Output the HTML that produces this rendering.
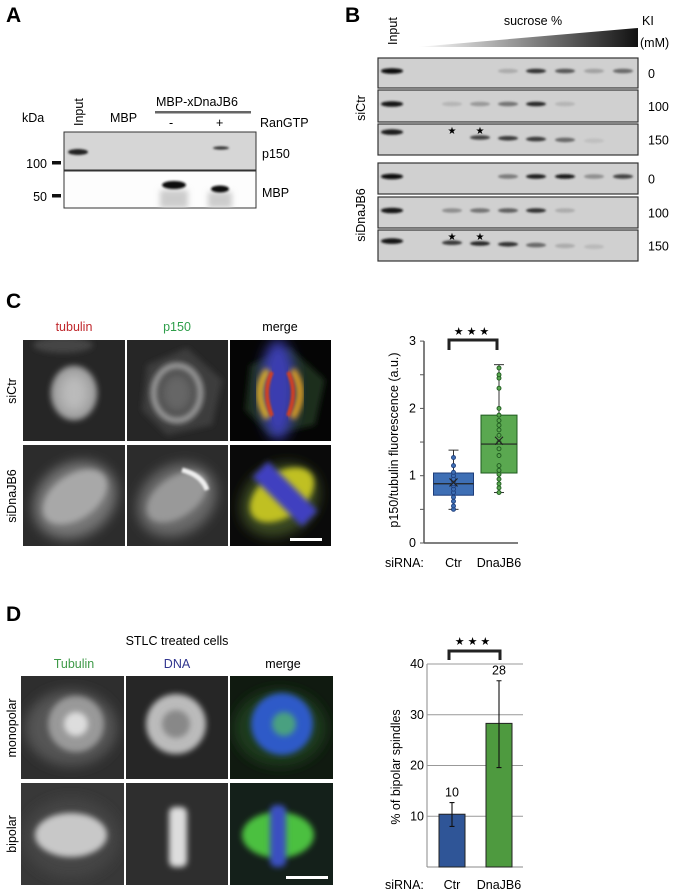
<!DOCTYPE html>
<html><head><meta charset="utf-8">
<style>
html,body{margin:0;padding:0;background:#fff;}
svg{display:block;font-family:"Liberation Sans",sans-serif;}
</style></head>
<body>
<svg id="fig" width="680" height="894" viewBox="0 0 680 894" xmlns="http://www.w3.org/2000/svg">
<defs>
<filter id="b1" x="-50%" y="-50%" width="200%" height="200%"><feGaussianBlur stdDeviation="1"/></filter>
<filter id="b3" x="-50%" y="-50%" width="200%" height="200%"><feGaussianBlur stdDeviation="3"/></filter>
<filter id="b6" x="-50%" y="-50%" width="200%" height="200%"><feGaussianBlur stdDeviation="6"/></filter>
<linearGradient id="tri" x1="0" x2="1" y1="0" y2="0"><stop offset="0" stop-color="#fff"/><stop offset="1" stop-color="#111"/></linearGradient>
<clipPath id="cA"><rect x="64" y="132" width="192" height="76"/></clipPath>
</defs>

<text x="6" y="22" font-size="21" font-weight="bold">A</text>
<text x="345" y="22" font-size="21" font-weight="bold">B</text>
<text x="6" y="308" font-size="21" font-weight="bold">C</text>
<text x="6" y="621" font-size="21" font-weight="bold">D</text>

<g font-size="12.5">
<text x="22" y="122">kDa</text>
<text transform="translate(83,126) rotate(-90)">Input</text>
<text x="110" y="122">MBP</text>
<text x="156" y="106">MBP-xDnaJB6</text>
<rect x="155" y="111" width="96" height="2.5" fill="#666"/>
<text x="169" y="127">-</text>
<text x="216" y="127">+</text>
<text x="260" y="127">RanGTP</text>
<rect x="64" y="132" width="192" height="38" fill="#d6d6d6" stroke="#333" stroke-width="1"/>
<rect x="64" y="171" width="192" height="37" fill="#fdfdfd" stroke="#333" stroke-width="1"/>
<g clip-path="url(#cA)">
<ellipse cx="78" cy="152" rx="10" ry="3" fill="#222" filter="url(#b1)"/>
<ellipse cx="221" cy="148" rx="8" ry="1.6" fill="#333" filter="url(#b1)"/>
<rect x="160" y="190" width="28" height="18" fill="#ccc" filter="url(#b3)"/>
<rect x="208" y="192" width="24" height="16" fill="#ccc" filter="url(#b3)"/>
<ellipse cx="174" cy="185" rx="12" ry="4" fill="#111" filter="url(#b1)"/>
<ellipse cx="220" cy="189" rx="9" ry="3.5" fill="#111" filter="url(#b1)"/>
</g>
<text x="262" y="158">p150</text>
<text x="262" y="197">MBP</text>
<text x="47" y="168" text-anchor="end">100</text>
<rect x="52" y="161" width="9" height="3.5" fill="#111"/>
<text x="47" y="201" text-anchor="end">50</text>
<rect x="52" y="194" width="9" height="3.5" fill="#111"/>
</g>

<g font-size="12.5">
<text transform="translate(397,45) rotate(-90)">Input</text>
<text x="533" y="25" text-anchor="middle">sucrose %</text>
<polygon points="417,47 638,28 638,47" fill="url(#tri)"/>
<text x="642" y="25">KI</text>
<text x="640" y="47">(mM)</text>
<text transform="translate(365,108) rotate(-90)" text-anchor="middle">siCtr</text>
<text transform="translate(365,215) rotate(-90)" text-anchor="middle">siDnaJB6</text>
<g id="blotsB"></g>
</g>

<g font-size="12.5">
<text x="74" y="331" text-anchor="middle" fill="#c0282d">tubulin</text>
<text x="177" y="331" text-anchor="middle" fill="#2e9e4a">p150</text>
<text x="280" y="331" text-anchor="middle">merge</text>
<text transform="translate(16,391) rotate(-90)" text-anchor="middle">siCtr</text>
<text transform="translate(16,496) rotate(-90)" text-anchor="middle">siDnaJB6</text>

<svg x="23" y="340" width="102" height="101"><rect width="102" height="101" fill="#262626"/><ellipse cx="40" cy="5" rx="30" ry="8" fill="#444" filter="url(#b3)"/><ellipse cx="51" cy="53" rx="23" ry="27" fill="#9a9a9a" filter="url(#b3)"/><ellipse cx="51" cy="53" rx="15" ry="20" fill="#bbb" filter="url(#b6)"/></svg>
<svg x="127" y="340" width="101" height="101"><rect width="101" height="101" fill="#262626"/><polygon points="20,25 60,8 95,40 85,85 40,95 15,70" fill="#3e3e3e" filter="url(#b3)"/><ellipse cx="50" cy="53" rx="23" ry="27" fill="none" stroke="#aaa" stroke-width="6" filter="url(#b3)"/><ellipse cx="50" cy="53" rx="18" ry="22" fill="#666" filter="url(#b6)"/></svg>
<svg x="230" y="340" width="101" height="101"><rect width="101" height="101" fill="#050505"/><polygon points="20,25 60,8 95,40 85,85 40,95 15,70" fill="#1a2e1a" filter="url(#b3)"/><ellipse cx="48" cy="50" rx="18" ry="50" fill="#3b3cb0" filter="url(#b6)"/><path d="M38 30 Q22 52 38 78" stroke="#e0b020" stroke-width="7" fill="none" filter="url(#b3)"/><path d="M62 30 Q78 52 62 78" stroke="#e0a020" stroke-width="7" fill="none" filter="url(#b3)"/><path d="M42 32 Q32 52 42 76" stroke="#d04020" stroke-width="4" fill="none" filter="url(#b1)"/><path d="M58 32 Q68 52 58 76" stroke="#d04020" stroke-width="4" fill="none" filter="url(#b1)"/></svg>

<svg x="23" y="445" width="102" height="101"><rect width="102" height="101" fill="#2c2c2c"/><ellipse cx="52" cy="55" rx="44" ry="36" transform="rotate(-35 52 55)" fill="#777" filter="url(#b6)"/><ellipse cx="52" cy="52" rx="36" ry="22" transform="rotate(-35 52 52)" fill="#a8a8a8" filter="url(#b3)"/></svg>
<svg x="127" y="445" width="101" height="101"><rect width="101" height="101" fill="#2c2c2c"/><ellipse cx="50" cy="55" rx="42" ry="34" transform="rotate(-35 50 55)" fill="#6a6a6a" filter="url(#b6)"/><ellipse cx="50" cy="52" rx="34" ry="20" transform="rotate(-35 50 52)" fill="#999" filter="url(#b3)"/><path d="M55 25 Q75 30 80 45" stroke="#eee" stroke-width="5" fill="none" filter="url(#b1)"/></svg>
<svg x="230" y="445" width="101" height="101"><rect width="101" height="101" fill="#0a0a0a"/><ellipse cx="50" cy="55" rx="42" ry="34" transform="rotate(-35 50 55)" fill="#3a4a20" filter="url(#b6)"/><ellipse cx="52" cy="50" rx="36" ry="22" transform="rotate(-35 52 50)" fill="#c0c020" filter="url(#b3)"/><rect x="20" y="38" width="70" height="22" transform="rotate(45 55 49)" fill="#4040c0" filter="url(#b3)"/><rect x="60" y="93" width="32" height="3" fill="#fff"/></svg>
</g>

<g font-size="12.5">
<text x="177" y="645" text-anchor="middle">STLC treated cells</text>
<text x="74" y="668" text-anchor="middle" fill="#3f9a48">Tubulin</text>
<text x="177" y="668" text-anchor="middle" fill="#30358f">DNA</text>
<text x="283" y="668" text-anchor="middle">merge</text>
<text transform="translate(16,728) rotate(-90)" text-anchor="middle">monopolar</text>
<text transform="translate(16,834) rotate(-90)" text-anchor="middle">bipolar</text>

<svg x="21" y="676" width="103" height="103"><rect width="103" height="103" fill="#2e2e2e"/><ellipse cx="50" cy="52" rx="46" ry="38" fill="#555" filter="url(#b6)"/><circle cx="55" cy="48" r="28" fill="#999" filter="url(#b3)"/><circle cx="55" cy="48" r="12" fill="#ddd" filter="url(#b3)"/></svg>
<svg x="126" y="676" width="102" height="103"><rect width="102" height="103" fill="#262626"/><circle cx="50" cy="48" r="30" fill="#bbb" filter="url(#b3)"/><circle cx="50" cy="48" r="14" fill="#888" filter="url(#b3)"/></svg>
<svg x="230" y="676" width="103" height="103"><rect width="103" height="103" fill="#101a10"/><ellipse cx="50" cy="52" rx="46" ry="38" fill="#1f3a1f" filter="url(#b6)"/><circle cx="52" cy="48" r="31" fill="#2f5ac8" filter="url(#b3)"/><circle cx="54" cy="48" r="12" fill="#4aa080" filter="url(#b3)"/></svg>

<svg x="21" y="783" width="103" height="102"><rect width="103" height="102" fill="#383838"/><ellipse cx="50" cy="55" rx="48" ry="40" fill="#444" filter="url(#b6)"/><ellipse cx="50" cy="52" rx="36" ry="22" fill="#c8c8c8" filter="url(#b3)"/></svg>
<svg x="126" y="783" width="102" height="102"><rect width="102" height="102" fill="#2e2e2e"/><rect x="43" y="24" width="18" height="60" rx="6" fill="#ddd" filter="url(#b3)"/></svg>
<svg x="230" y="783" width="103" height="102"><rect width="103" height="102" fill="#14201a"/><ellipse cx="48" cy="52" rx="36" ry="23" fill="#4cc040" filter="url(#b3)"/><rect x="40" y="22" width="16" height="62" rx="6" fill="#3a50c0" filter="url(#b3)"/><rect x="56" y="93" width="42" height="3" fill="#fff"/></svg>
</g>

<g id="chartC" font-size="12.5"></g>
<g id="chartD" font-size="12.5"></g>
</svg>

<script>
var laneX = [392, 425, 452, 480, 508, 536, 565, 594, 623];
var rowTop = [58, 90, 124, 163, 197, 230];
var rowH = [30, 32, 31, 31, 31, 31];
var rowKI = ["0", "100", "150", "0", "100", "150"];
var bandIntensity = [
  [1, 0, 0, 0, 0.15, 0.8, 0.6, 0.2, 0.5],
  [0.95, 0, 0.1, 0.25, 0.45, 0.85, 0.1, 0, 0],
  [0.9, 0, 0, 0.7, 0.75, 0.75, 0.5, 0.05, 0],
  [1, 0, 0, 0, 0.4, 0.9, 0.95, 0.3, 0.7],
  [0.95, 0, 0.3, 0.45, 0.55, 0.8, 0.15, 0, 0],
  [0.95, 0, 0.75, 0.85, 0.8, 0.5, 0.15, 0.08, 0]
];
var NS = "http://www.w3.org/2000/svg";
function mk(tag, attrs, parent) {
  var e = document.createElementNS(NS, tag);
  for (var k in attrs) e.setAttribute(k, attrs[k]);
  parent.appendChild(e);
  return e;
}
var gB = document.getElementById("blotsB");
for (var r = 0; r < rowTop.length; r++) {
  var box = mk("rect", {x: 378, y: rowTop[r], width: 260, height: rowH[r], fill: "#d0d0d0", stroke: "#333", "stroke-width": 1.2}, gB);
  
  
  var lbl = mk("text", {x: 648, y: rowTop[r] + rowH[r] / 2 + 5}, gB);
  lbl.textContent = rowKI[r];
  
  
  for (var l = 0; l < laneX.length; l++) {
    var v = bandIntensity[r][l];
    if (v <= 0) continue;
    var g = Math.round(200 - 190 * v);
    var yy = rowTop[r] + rowH[r] / 2 - 2 + (r === 2 || r === 5 ? (l - 3) * 0.8 : 0);
    if (r === 2 && l === 0) yy -= 3;
    var band = mk("ellipse", {cx: laneX[l], cy: yy, rx: l === 0 ? 11 : 10, ry: l === 0 ? 2.8 : 2.3, fill: "rgb(" + g + "," + g + "," + g + ")", filter: "url(#b1)"}, gB);
    
    
  }
  if (r === 2 || r === 5) {
    [452, 480].forEach(function (sx) {
      var st = mk("text", {x: sx, y: rowTop[r] + 10, "text-anchor": "middle", "font-size": 10}, gB);
      st.textContent = "★";
      
      
    });
  }
}

var boxCats = ["Ctr", "DnaJB6"];
var boxMin = [0.5, 0.75];
var boxQ1 = [0.71, 1.04];
var boxMedian = [0.88, 1.47];
var boxQ3 = [1.04, 1.9];
var boxMax = [1.38, 2.65];
var boxMean = [0.9, 1.52];
var ctrPoints = [0.5, 0.55, 0.62, 0.68, 0.75, 0.8, 0.85, 0.88, 0.92, 0.95, 1.0, 1.05, 1.15, 1.27];
var dnaPoints = [0.75, 0.82, 0.88, 0.95, 1.02, 1.08, 1.15, 1.3, 1.4, 1.5, 1.6, 1.68, 1.75, 1.82, 1.9, 2.0, 2.3, 2.45, 2.5, 2.6];
var boxTicks = [0, 1, 2, 3];
var gC = document.getElementById("chartC");
function yC(v) { return 543 - v * 67.3; }
var boxCx = [453.5, 499];
var boxFill = ["#3e6fb5", "#5aa850"];
var boxStroke = ["#1e3d7a", "#1f5a1f"];
var ax = mk("line", {x1: 424, y1: yC(3), x2: 424, y2: yC(0), stroke: "#555", "stroke-width": 1.5}, gC);


var xa = mk("line", {x1: 424, y1: yC(0), x2: 518, y2: yC(0), stroke: "#555", "stroke-width": 1.5}, gC);


for (var t = 0; t <= 6; t++) {
  var tk = mk("line", {x1: 420, y1: yC(t / 2), x2: 424, y2: yC(t / 2), stroke: "#555", "stroke-width": 1}, gC);
  
  
}
boxTicks.forEach(function (v) {
  var tl = mk("text", {x: 416, y: yC(v) + 4, "text-anchor": "end"}, gC);
  tl.textContent = v;
  
  
});
var yt = mk("text", {transform: "translate(398,440) rotate(-90)", "text-anchor": "middle"}, gC);
yt.textContent = "p150/tubulin fluorescence (a.u.)";


for (var i = 0; i < boxCats.length; i++) {
  var cx = boxCx[i], hw = i === 0 ? 20 : 18;
  var wl = mk("line", {x1: cx, y1: yC(boxMin[i]), x2: cx, y2: yC(boxMax[i]), stroke: "#333", "stroke-width": 1}, gC);
  
  
  [boxMin[i], boxMax[i]].forEach(function (v) {
    var cap = mk("line", {x1: cx - 5, y1: yC(v), x2: cx + 5, y2: yC(v), stroke: "#333", "stroke-width": 1}, gC);
    
    
  });
  var bx = mk("rect", {x: cx - hw, y: yC(boxQ3[i]), width: 2 * hw, height: yC(boxQ1[i]) - yC(boxQ3[i]), fill: boxFill[i], stroke: boxStroke[i], "stroke-width": 1}, gC);
  
  
  var md = mk("line", {x1: cx - hw, y1: yC(boxMedian[i]), x2: cx + hw, y2: yC(boxMedian[i]), stroke: "#222", "stroke-width": 1.2}, gC);
  
  
  var pts = i === 0 ? ctrPoints : dnaPoints;
  pts.forEach(function (v) {
    var c = mk("circle", {cx: cx, cy: yC(v), r: 2, fill: boxFill[i], stroke: boxStroke[i], "stroke-width": 0.9}, gC);
    
    
  });
  var my = yC(boxMean[i]);
  var mx = mk("path", {d: "M" + (cx - 4) + " " + (my - 4) + "L" + (cx + 4) + " " + (my + 4) + "M" + (cx + 4) + " " + (my - 4) + "L" + (cx - 4) + " " + (my + 4), stroke: "#222", "stroke-width": 1.1}, gC);
  
  
  var xl = mk("text", {x: cx, y: 567, "text-anchor": "middle"}, gC);
  xl.textContent = boxCats[i];
  
  
}
var sr = mk("text", {x: 385, y: 567}, gC);
sr.textContent = "siRNA:";


var br = mk("path", {d: "M449 350 V340 H497 V350", stroke: "#222", "stroke-width": 3, fill: "none"}, gC);


var ss = mk("text", {x: 473, y: 335, "text-anchor": "middle", "font-size": 11, "letter-spacing": "3"}, gC);
ss.textContent = "★★★";



var barCats = ["Ctr", "DnaJB6"];
var barValues = [10.4, 28.3];
var barLabels = ["10", "28"];
var errLow = [8.0, 19.6];
var errHigh = [12.7, 36.7];
var barTicks = [10, 20, 30, 40];
var gD = document.getElementById("chartD");
function yD(v) { return 867 - v * 5.075; }
var barCx = [452, 499];
var barFill = ["#2f5597", "#4e9a3f"];
var dax = mk("line", {x1: 427, y1: yD(40), x2: 427, y2: yD(0), stroke: "#888", "stroke-width": 1}, gD);


var dbase = mk("line", {x1: 427, y1: yD(0), x2: 523, y2: yD(0), stroke: "#888", "stroke-width": 1}, gD);


barTicks.forEach(function (v) {
  var gl = mk("line", {x1: 427, y1: yD(v), x2: 523, y2: yD(v), stroke: "#999", "stroke-width": 1}, gD);
  
  
  var tl = mk("text", {x: 424, y: yD(v) + 4, "text-anchor": "end"}, gD);
  tl.textContent = v;
  
  
});
var yt2 = mk("text", {transform: "translate(400,767) rotate(-90)", "text-anchor": "middle"}, gD);
yt2.textContent = "% of bipolar spindles";


for (var j = 0; j < barCats.length; j++) {
  var bx2 = mk("rect", {x: barCx[j] - 13, y: yD(barValues[j]), width: 26, height: yD(0) - yD(barValues[j]), fill: barFill[j], stroke: "#222", "stroke-width": 1}, gD);
  
  
  var el = mk("path", {d: "M" + barCx[j] + " " + yD(errLow[j]) + "V" + yD(errHigh[j]) + "M" + (barCx[j] - 2.5) + " " + yD(errLow[j]) + "h5M" + (barCx[j] - 2.5) + " " + yD(errHigh[j]) + "h5", stroke: "#111", "stroke-width": 1.1, fill: "none"}, gD);
  
  
  var vl = mk("text", {x: barCx[j], y: yD(errHigh[j]) - 6, "text-anchor": "middle"}, gD);
  vl.textContent = barLabels[j];
  
  
  var xl2 = mk("text", {x: barCx[j], y: 889, "text-anchor": "middle"}, gD);
  xl2.textContent = barCats[j];
  
  
}
var sr2 = mk("text", {x: 385, y: 889}, gD);
sr2.textContent = "siRNA:";


var br2 = mk("path", {d: "M449 660 V651 H500 V660", stroke: "#222", "stroke-width": 3, fill: "none"}, gD);


var ss2 = mk("text", {x: 474, y: 645, "text-anchor": "middle", "font-size": 11, "letter-spacing": "3"}, gD);
ss2.textContent = "★★★";


</script>
</body></html>
